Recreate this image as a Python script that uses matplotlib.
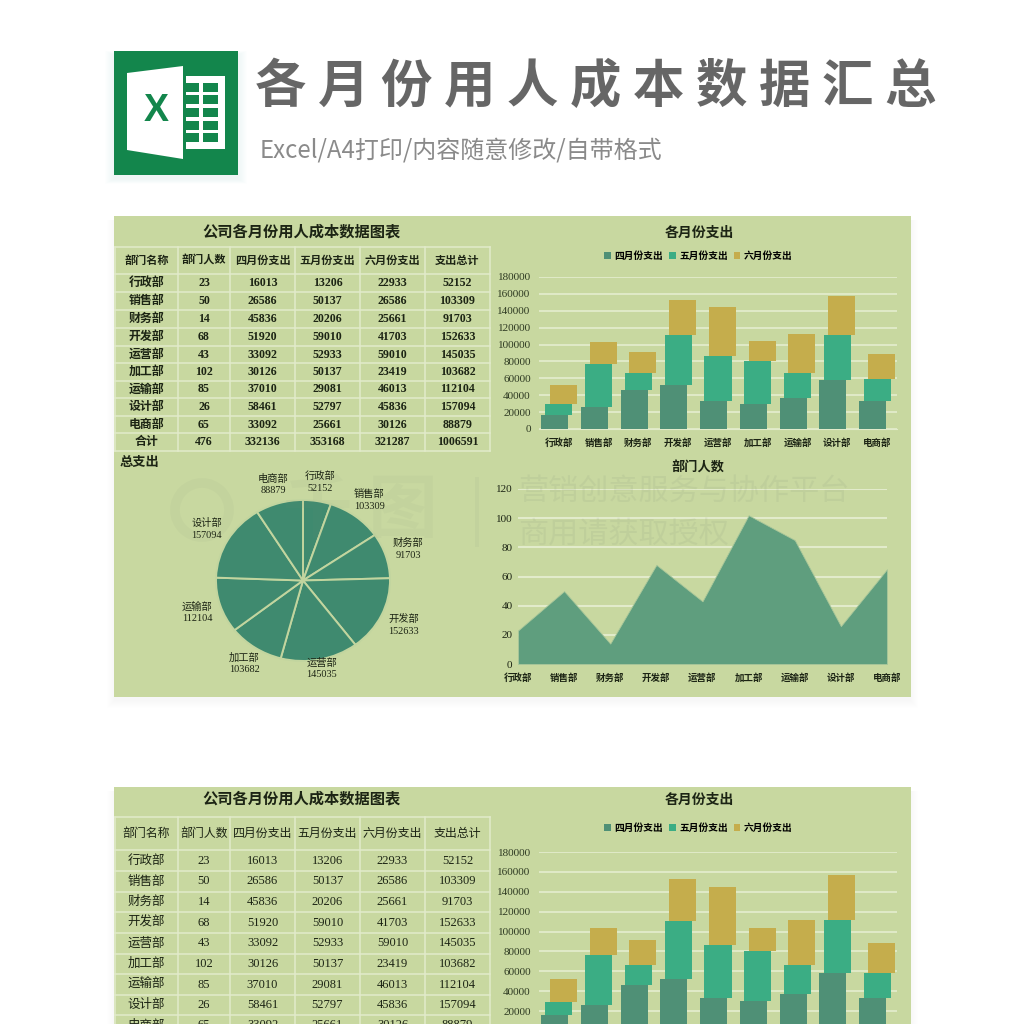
import numpy as np
import matplotlib
matplotlib.use('Agg')
import matplotlib.pyplot as plt
from matplotlib.patches import Rectangle, Polygon, Circle

plt.rcParams['font.family'] = ['Liberation Serif', 'Noto Sans CJK SC']

departments = ['行政部', '销售部', '财务部', '开发部', '运营部', '加工部', '运输部', '设计部', '电商部']
headcount = [23, 50, 14, 68, 43, 102, 85, 26, 65]
april = [16013, 26586, 45836, 51920, 33092, 30126, 37010, 58461, 33092]
may = [13206, 50137, 20206, 59010, 52933, 50137, 29081, 52797, 25661]
june = [22933, 26586, 25661, 41703, 59010, 23419, 46013, 45836, 30126]
total = [52152, 103309, 91703, 152633, 145035, 103682, 112104, 157094, 88879]
table_header = ['部门名称', '部门人数', '四月份支出', '五月份支出', '六月份支出', '支出总计']
sum_row = ['合计', 476, 332136, 353168, 321287, 1006591]
bar_ticks = [0, 20000, 40000, 60000, 80000, 100000, 120000, 140000, 160000, 180000]
area_ticks = [0, 20, 40, 60, 80, 100, 120]

PANEL = '#c8d8a0'
LINE = '#e2ebcb'
C_APR = '#4f9076'
C_MAY = '#3bad84'
C_JUN = '#c5ad4c'
C_PIE = '#3f8a6f'
C_AREA = '#5f9e7e'
TEXT = '#1c2414'
GREEN = '#13864c'

fig = plt.figure(figsize=(10.24, 10.24), dpi=100, facecolor='white')


def px_axes(x0, y0, x1, y1, **kw):
    # axes from pixel box, y counted from the top of the picture
    return fig.add_axes([x0 / 1024, 1 - y1 / 1024, (x1 - x0) / 1024, (y1 - y0) / 1024], **kw)


def cat_labels(ax, pad):
    # centre aligned so labels with different glyphs stay on one line
    ax.set_xticks(range(len(departments)))
    ax.set_xticklabels(departments, fontsize=6.8, fontweight='bold', color=TEXT, va='center')
    ax.tick_params(axis='x', length=0, pad=pad)


bg = px_axes(0, 0, 1024, 1024, zorder=0)
bg.set_xlim(0, 1024)
bg.set_ylim(1024, 0)
bg.axis('off')

# excel icon
for i in range(10):
    bg.add_patch(Rectangle((114 - i, 55 - i // 2), 124 + 2 * i, 124 + i, color='#9fb4d0', alpha=0.012, lw=0))
bg.add_patch(Rectangle((114, 51), 124, 124, color=GREEN, lw=0))
bg.add_patch(Rectangle((186, 76), 39, 73, color='white', lw=0))
for top in [83, 95, 108, 121, 133]:
    for left, w in [(186, 13), (203, 15)]:
        bg.add_patch(Rectangle((left, top), w, 9, color=GREEN, lw=0))
bg.add_patch(Polygon([(127, 73), (183, 66), (183, 159), (127, 150)], color='white', lw=0))
bg.text(156, 111, 'X', color=GREEN, fontsize=27, fontweight='bold', family='Liberation Sans',
        ha='center', va='center')

bg.text(255, 86, '各 月 份 用 人 成 本 数 据 汇 总', color='#666666', fontsize=37, fontweight='bold',
        family='Noto Sans CJK SC', ha='left', va='center')
bg.text(260, 150, 'Excel/A4打印/内容随意修改/自带格式', color='#8a8a8a', fontsize=17.3,
        family='Noto Sans CJK SC', ha='left', va='center')

col_x = [115, 178, 230, 295, 360, 425, 490]


def draw_table(row_y, title_y, top, weight, size, head_size):
    for i in range(8):
        bg.add_patch(Rectangle((114 - i, top + 4), 797 + 2 * i, 481 + i, color='#8a8a8a', alpha=0.006, lw=0))
    bg.add_patch(Rectangle((114, top), 797, 481, color=PANEL, lw=0))
    bg.text(302, title_y, '公司各月份用人成本数据图表', fontsize=11, fontweight='bold', color=TEXT,
            ha='center', va='center')
    for y in row_y:
        bg.plot([col_x[0], col_x[-1]], [y, y], color=LINE, lw=1.1)
    for x in col_x:
        bg.plot([x, x], [row_y[0], row_y[-1]], color=LINE, lw=1.1)
    rows = [table_header]
    for i, d in enumerate(departments):
        rows.append([d, headcount[i], april[i], may[i], june[i], total[i]])
    rows.append(sum_row)
    for r, row in enumerate(rows):
        if r + 1 >= len(row_y):
            break
        yc = (row_y[r] + row_y[r + 1]) / 2
        for c, val in enumerate(row):
            fs = head_size if r == 0 else size
            bg.text((col_x[c] + col_x[c + 1]) / 2, yc, str(val), fontsize=fs, fontweight=weight, color=TEXT,
                    ha='center', va='center', clip_on=True)


def draw_bars(x0, x1, y_top, y_zero, title_y, legend_y):
    ax = px_axes(x0, y_top, x1, y_zero, zorder=2)
    ax.patch.set_alpha(0)
    pos = np.arange(len(departments))
    bottom2 = np.array(april) + np.array(may)
    b1 = ax.bar(pos - 0.11, april, width=0.68, color=C_APR, label='四月份支出', zorder=3)
    b2 = ax.bar(pos, may, width=0.68, bottom=april, color=C_MAY, label='五月份支出', zorder=3)
    b3 = ax.bar(pos + 0.11, june, width=0.68, bottom=bottom2, color=C_JUN, label='六月份支出', zorder=3)
    ax.set_xlim(-0.5, 8.5)
    ax.set_ylim(0, 180000)
    ax.set_yticks(bar_ticks)
    cat_labels(ax, 10)
    ax.tick_params(axis='y', length=0, labelsize=8, labelcolor='#2e3a22', pad=6)
    ax.grid(axis='y', color=LINE, lw=1.3, zorder=1)
    for s in ax.spines.values():
        s.set_visible(False)
    ax.spines['bottom'].set_visible(True)
    ax.spines['bottom'].set_color(LINE)
    # y in the title and legend is given in pixels, converted to axes fraction
    frac = lambda y: (y_zero - y) / (y_zero - y_top)
    ax.text(0.448, frac(title_y), '各月份支出', transform=ax.transAxes, fontsize=10, fontweight='bold',
            color=TEXT, ha='center', va='center', clip_on=False)
    ax.legend(handles=[b1, b2, b3], loc='center', bbox_to_anchor=(0.445, frac(legend_y)), ncols=3, frameon=False,
              handlelength=0.7, handleheight=0.7, handletextpad=0.35, columnspacing=0.6,
              prop={'size': 7, 'weight': 'bold'})
    return ax


# first sheet
row_y1 = [247, 274, 292, 310, 328, 346, 363, 381, 398, 416, 433, 451]
draw_table(row_y1, 232, 216, 'bold', 8.6, 8)
draw_bars(539, 897, 277, 429, 233, 256)

bg.text(120, 463, '总支出', fontsize=9.5, fontweight='bold', color=TEXT, ha='left', va='center')

# pie, starts at 12 o'clock and runs clockwise; the reference squashes it a little
pie_ax = px_axes(216, 500, 390, 661, zorder=2)
wedges, _ = pie_ax.pie(total, colors=[C_PIE] * len(total), startangle=90, counterclock=False, radius=1,
                       wedgeprops={'edgecolor': '#c2d59f', 'linewidth': 1.4})
pie_ax.set_aspect('auto')
pie_ax.set_xlim(-1, 1)
pie_ax.set_ylim(-1, 1)
label_r = [1.24, 1.26, 1.27, 1.28, 1.11, 1.23, 1.28, 1.28, 1.24]
for w, r, d, v in zip(wedges, label_r, departments, total):
    a = np.deg2rad((w.theta1 + w.theta2) / 2)
    pie_ax.text(r * np.cos(a), r * np.sin(a), f'{d}\n{v}', fontsize=7.4, color=TEXT, ha='center', va='center',
                linespacing=1.4, clip_on=False)

# area
area_ax = px_axes(518, 489, 887, 664, zorder=2)
area_ax.patch.set_alpha(0)
area_ax.fill_between(range(len(headcount)), headcount, color=C_AREA, edgecolor='#a9c79a', lw=0.6, zorder=3)
area_ax.set_xlim(0, 8)
area_ax.set_ylim(0, 120)
area_ax.set_yticks(area_ticks)
cat_labels(area_ax, 10)
area_ax.tick_params(axis='y', length=0, labelsize=8, labelcolor=TEXT, pad=4)
area_ax.grid(axis='y', color=LINE, lw=1.5, zorder=1)
for s in area_ax.spines.values():
    s.set_visible(False)
area_ax.text(0.488, (664 - 468) / 175, '部门人数', transform=area_ax.transAxes, fontsize=9.5, fontweight='bold',
             color=TEXT, ha='center', va='center', clip_on=False)

# second sheet runs off the bottom of the picture
row_y2 = [817, 850, 871, 892, 912, 933, 954, 974, 995, 1015, 1036]
draw_table(row_y2, 799, 787, 'normal', 9, 8.6)
draw_bars(539, 897, 852, 1031, 800, 828)

# watermark on top of everything
wm = px_axes(0, 0, 1024, 1024, zorder=5)
wm.set_xlim(0, 1024)
wm.set_ylim(1024, 0)
wm.axis('off')
wm.patch.set_alpha(0)
WM = dict(color='#7f8a78', alpha=0.11, family='Noto Sans CJK SC', va='center', ha='left')
wm.text(518, 491, '营销创意服务与协作平台', fontsize=21.7, **WM)
wm.text(518, 535, '商用请获取授权', fontsize=21.7, **WM)
wm.text(283, 512, '千 图', fontsize=50, fontweight='bold', color='#7f8a78', alpha=0.06,
        family='Noto Sans CJK SC', ha='left', va='center')
wm.add_patch(Circle((202, 510), 27, fill=False, ec='#7f8a78', lw=7, alpha=0.06))
wm.add_patch(Rectangle((475, 477), 4, 70, color='#7f8a78', alpha=0.07, lw=0))

fig.savefig('out.png', dpi=100)
